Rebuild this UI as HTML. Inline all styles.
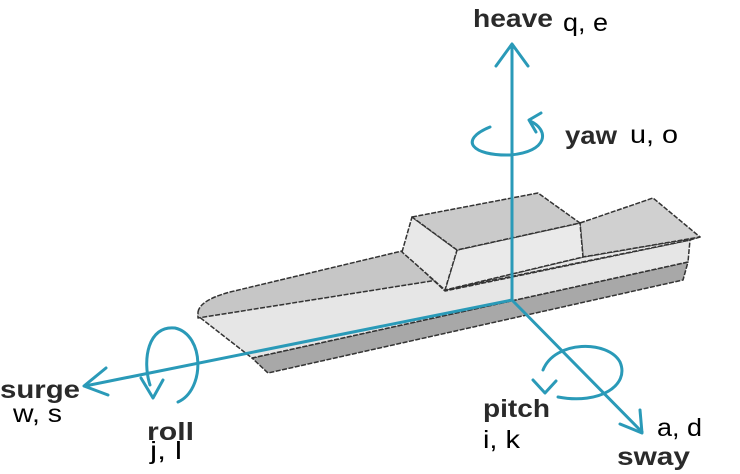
<!DOCTYPE html>
<html><head><style>
body{margin:0;background:#fff;width:740px;height:474px;overflow:hidden}
svg{display:block}
.b{font-family:"Liberation Sans",sans-serif;font-weight:bold;font-size:25px;fill:#2a2a2a}
.n{font-family:"Liberation Sans",sans-serif;font-size:25px;fill:#000}
</style></head><body>
<svg width="740" height="474" viewBox="0 0 740 474">
<g stroke="#333" stroke-width="1.5" stroke-dasharray="5,1.5" stroke-linejoin="round">
<polygon points="252,358 688,262 683,280 268,373" fill="#a8a8a8"/>
<polygon points="198,316 690,240 688,262 252,358" fill="#e6e6e6"/>
<path d="M198,312 Q200,300 230,292 L402,251 L445,291 L690,240 L198,318 Z" fill="#c6c6c6"/>
<polygon points="445,290 583,257 700,237 690,240" fill="#e6e6e6"/>
<polygon points="580,223 653,198 700,237 583,257" fill="#d0d0d0"/>
<polygon points="457,250 580,223 583,257 445,290" fill="#eaeaea"/>
<polygon points="402,252 412,217 457,250 445,290" fill="#e8e8e8"/>
<polygon points="412,217 538,193 580,223 457,250" fill="#cacaca"/>
</g>
<g stroke="#2a9ab8" stroke-width="3" fill="none" stroke-linecap="round" stroke-linejoin="round">
<line x1="512" y1="300" x2="512" y2="45"/>
<polyline points="496,66 512,44 528,66"/>
<line x1="512" y1="300" x2="85" y2="386"/>
<polyline points="106,368 84,386 108,395"/>
<line x1="512" y1="300" x2="642" y2="432"/>
<polyline points="620,424 642,433 640,410"/>
<path d="M530,121 C550,130 548,152 510,155 C472,156 458,140 490,127"/>
<polyline points="541,113 529,120 536,132"/>
<path d="M178,402 C205,390 205,335 175,328 C148,325 142,360 150,385"/>
<polyline points="141,378 153,398 163,380"/>
<path d="M558,397 C600,405 630,385 620,362 C608,340 555,340 543,370"/>
<polyline points="533,380 545,393 556,381"/>
</g>
<text class="b" x="473" y="27" textLength="80" lengthAdjust="spacingAndGlyphs">heave</text>
<text class="n" x="563" y="31" textLength="45" lengthAdjust="spacingAndGlyphs">q, e</text>
<text class="b" x="565" y="144" textLength="52" lengthAdjust="spacingAndGlyphs">yaw</text>
<text class="n" x="630" y="143" textLength="48" lengthAdjust="spacingAndGlyphs">u, o</text>
<text class="b" x="0" y="398" textLength="80" lengthAdjust="spacingAndGlyphs">surge</text>
<text class="n" x="13" y="422" textLength="49" lengthAdjust="spacingAndGlyphs">w, s</text>
<text class="b" x="147" y="440" textLength="47" lengthAdjust="spacingAndGlyphs">roll</text>
<text class="n" x="150" y="459" textLength="32" lengthAdjust="spacingAndGlyphs">j, l</text>
<text class="b" x="483" y="417" textLength="67" lengthAdjust="spacingAndGlyphs">pitch</text>
<text class="n" x="483" y="448" textLength="37" lengthAdjust="spacingAndGlyphs">i, k</text>
<text class="n" x="657" y="436" textLength="45" lengthAdjust="spacingAndGlyphs">a, d</text>
<text class="b" x="617" y="465" textLength="73" lengthAdjust="spacingAndGlyphs">sway</text>
</svg>
</body></html>
